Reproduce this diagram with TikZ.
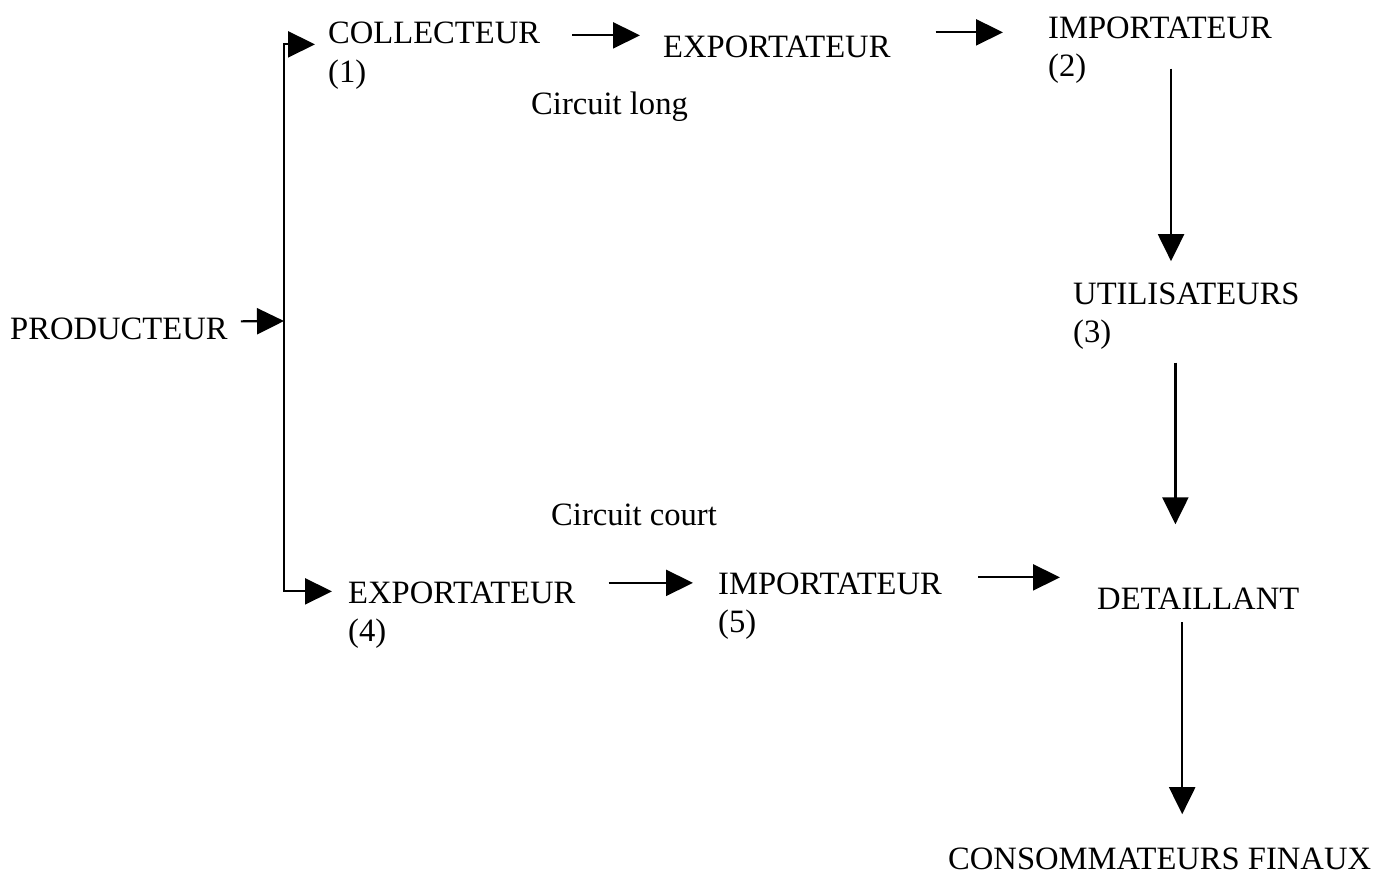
\documentclass[tikz,border=0pt]{standalone}
\usepackage{fontspec}
\setmainfont{Liberation Serif}
\usetikzlibrary{arrows.meta,calc}
\begin{document}
\begin{tikzpicture}[x=1pt,y=-1pt,
  lbl/.style={anchor=base west,inner sep=0pt,font=\fontsize{32.6}{38}\selectfont},
  arr/.style={line width=2.2pt,-{Triangle[length=27pt,width=26pt]}}]
\useasboundingbox[fill=white] (0,0) rectangle (1388,875);
% nodes
\node[lbl] (prod) at (10,339) {PRODUCTEUR};
\node[lbl] (coll) at (328,44) {COLLECTEUR};
\node[lbl] (colln) at ([yshift=-38pt]coll.base west) {(1)};
\node[lbl] (expA) at (663,57) {EXPORTATEUR};
\node[lbl] (imp) at (1048,39) {IMPORTATEUR};
\node[lbl] (impn) at ([yshift=-38pt]imp.base west) {(2)};
\node[lbl] (clong) at (531,114) {Circuit long};
\node[lbl] (util) at (1073,304) {UTILISATEURS};
\node[lbl] (utiln) at ([yshift=-38pt]util.base west) {(3)};
\node[lbl] (ccourt) at (551,525) {Circuit court};
\node[lbl] (exp4) at (348,603) {EXPORTATEUR};
\node[lbl] (exp4n) at ([yshift=-38pt]exp4.base west) {(4)};
\node[lbl] (imp5) at (718,594) {IMPORTATEUR};
\node[lbl] (imp5n) at ([yshift=-38pt]imp5.base west) {(5)};
\node[lbl] (det) at (1097,609) {DETAILLANT};
\node[lbl] (cons) at (948,869) {CONSOMMATEURS FINAUX};
% trunk
\coordinate (trunk) at (284,321);
\draw[arr] ($(prod.east)+(13,-7)$) -- (trunk);
\draw[arr] (trunk) |- ($(coll.west)+(-13,11)$);
\draw[arr] (trunk) |- ($(exp4.west)+(-16,-1)$);
% top row
\draw[arr] ($(coll.east)+(32,2)$) -- ($(coll.east -| expA.west)+(-23,2)$);
\draw[arr] ($(expA.east)+(45,-14)$) -- ($(expA.east -| imp.west)+(-45,-14)$);
% verticals
\draw[arr] ($(imp.south)+(11,29)$) -- ($(imp.south |- util.north)+(11,-21)$);
\draw[arr] ($(util.south)+(-11,58)$) -- ($(util.south |- det.north)+(-11,-63)$);
\draw[arr] ($(det.south)+(-16,13)$) -- ($(det.south |- cons.north)+(-16,-33)$);
% bottom row
\draw[arr] ($(exp4.east)+(33,-9.5)$) -- ($(exp4.east -| imp5.west)+(-25,-9.5)$);
\draw[arr] ($(imp5.east)+(36,-6)$) -- ($(imp5.east -| det.west)+(-37,-6)$);
\end{tikzpicture}
\end{document}
